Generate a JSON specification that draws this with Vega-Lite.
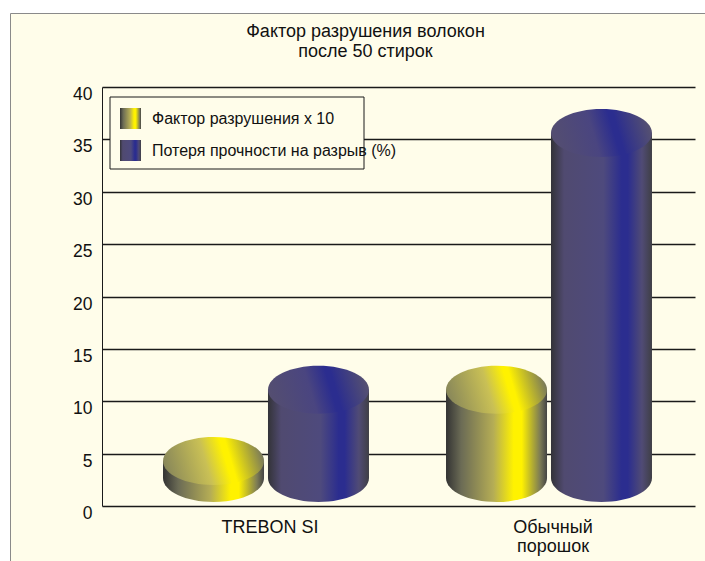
{
"$schema":"https://vega.github.io/schema/vega-lite/v6.json",
"width":695,"height":548,
"autosize":{"type":"none"},
"padding":{"left":10,"top":13,"right":0,"bottom":0},
"background":"#ffffff",
"view":{"fill":"#FFFDEA","stroke":"#8a8a8a","strokeWidth":1},
"config":{"font":"Liberation Sans"},
"title":{"text":["Фактор разрушения волокон","после 50 стирок"],"anchor":"middle","frame":"group","offset":-48,"dx":8,"fontSize":18,"fontWeight":"normal","font":"Liberation Sans","color":"#111111","lineHeight":20},
"data":{"values":[
{"product":"TREBON SI","series":"Фактор разрушения х 10","value":4.3},
{"product":"TREBON SI","series":"Потеря прочности на разрыв (%)","value":11.1},
{"product":"Обычный порошок","series":"Фактор разрушения х 10","value":11.1},
{"product":"Обычный порошок","series":"Потеря прочности на разрыв (%)","value":35.6}
]},
"encoding":{
"x":{"field":"product","type":"nominal","sort":null,"scale":{"range":[114.5,680.5],"paddingInner":0,"paddingOuter":0},
 "axis":{"title":null,"orient":"bottom","offset":-55,"domain":false,"ticks":false,"labelAngle":0,"labelPadding":12,"labelFontSize":18,"labelColor":"#111111","labelOffset":4,"labelLimit":300,"labelLineHeight":19,"labelExpr":"datum.value == 'Обычный порошок' ? ['Обычный','порошок'] : datum.label"}},
"xOffset":{"field":"series","type":"nominal","sort":null,"scale":{"domain":["Фактор разрушения х 10","Потеря прочности на разрыв (%)"],"paddingInner":0,"paddingOuter":0.348}},
"y":{"field":"value","type":"quantitative","scale":{"domain":[0,40],"range":[493,74],"nice":false,"zero":false},
 "axis":{"title":null,"orient":"left","offset":-92,"values":[0,5,10,15,20,25,30,35,40],"tickSize":-593,"tickColor":"#1a1a1a","tickWidth":1.3,"domainColor":"#1a1a1a","domainWidth":1,"grid":false,"labelFontSize":17.5,"labelColor":"#111111","labelPadding":603,"labelOffset":7.5}}
},
"layer":[
{"mark":{"type":"point","filled":true,"opacity":1,"size":10201,"shape":"M-1,0 A1,0.475 0 1 1 1,0 A1,0.475 0 1 1 -1,0 Z"},
 "encoding":{"y":{"datum":2.67},"fill":{"field":"series","type":"nominal","sort":null}}},
{"mark":{"type":"bar","width":101,"opacity":1},
 "encoding":{"y2":{"datum":2.67},
 "fill":{"field":"series","type":"nominal","sort":null,"scale":{"domain":["Фактор разрушения х 10","Потеря прочности на разрыв (%)"],"range":[
  {"signal":"{gradient:'linear',x1:0,x2:1,y1:0,y2:0,stops:[{offset:0,color:'#333333'},{offset:0.15,color:'#6b6b55'},{offset:0.47,color:'#b5ad55'},{offset:0.67,color:'#fff200'},{offset:0.75,color:'#fff200'},{offset:0.93,color:'#7d7c55'},{offset:1,color:'#444444'}]}"},
  {"signal":"{gradient:'linear',x1:0,x2:1,y1:0,y2:0,stops:[{offset:0,color:'#333338'},{offset:0.13,color:'#504a70'},{offset:0.52,color:'#4e4a7d'},{offset:0.7,color:'#2b2d8f'},{offset:0.76,color:'#2b2d8f'},{offset:0.9,color:'#504b75'},{offset:1,color:'#3f3f45'}]}"}
 ]},
 "legend":{"title":null,"orient":"none","legendX":110,"legendY":95,"padding":0,"symbolType":"square","symbolSize":441,"symbolStrokeWidth":0,"rowPadding":11,"labelOffset":11,"labelFontSize":16,"labelColor":"#111111","labelLimit":400,"zindex":1}}}},
{"transform":[{"filter":"datum.series == 'Фактор разрушения х 10'"}],
 "mark":{"type":"point","filled":true,"opacity":1,"size":10201,"shape":"M-1,0 A1,0.475 0 1 1 1,0 A1,0.475 0 1 1 -1,0 Z",
 "fill":{"gradient":"linear","x1":0,"y1":0.57,"x2":1,"y2":0.43,"stops":[{"offset":0,"color":"#87865a"},{"offset":0.42,"color":"#c9c055"},{"offset":0.62,"color":"#fff200"},{"offset":0.67,"color":"#fff200"},{"offset":1,"color":"#77775c"}]}}},
{"transform":[{"filter":"datum.series != 'Фактор разрушения х 10'"}],
 "mark":{"type":"point","filled":true,"opacity":1,"size":10201,"shape":"M-1,0 A1,0.475 0 1 1 1,0 A1,0.475 0 1 1 -1,0 Z",
 "fill":{"gradient":"linear","x1":0,"y1":0.57,"x2":1,"y2":0.43,"stops":[{"offset":0,"color":"#544e70"},{"offset":0.42,"color":"#4a4580"},{"offset":0.62,"color":"#2b2d8f"},{"offset":0.67,"color":"#2b2d8f"},{"offset":1,"color":"#575270"}]}}},
{"data":{"values":[{"box":"legend"}]},
 "mark":{"type":"rect","fill":"#FFFDEA","stroke":"#1a1a1a","strokeWidth":1,"x":100,"x2":354,"y":84,"y2":156},
 "encoding":{"x":null,"xOffset":null,"y":null}}
]
}
